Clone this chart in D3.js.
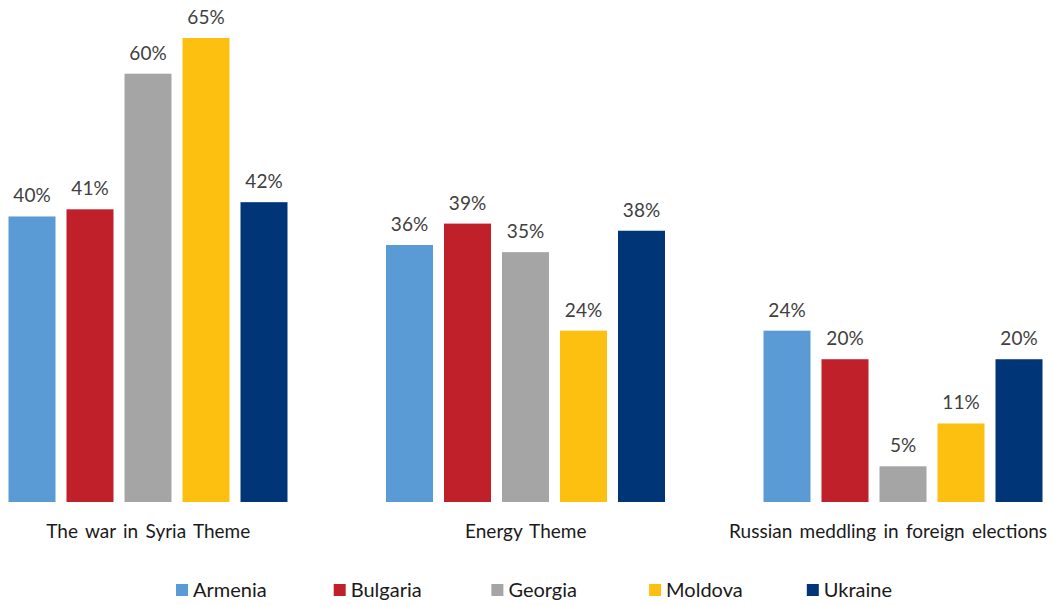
<!DOCTYPE html>
<html>
<head>
<meta charset="utf-8">
<script src="https://cdn.jsdelivr.net/npm/d3@7"></script>
<style>
  html, body { margin: 0; padding: 0; background: #fff; }
  svg { display: block; font-family: Lato, "Open Sans", sans-serif; }
</style>
</head>
<body>
<svg id="chart" width="1053" height="605"></svg>
<script>
// Themes (x-axis groups), countries (series) and their shares in percent
const themes = ["The war in Syria Theme", "Energy Theme", "Russian meddling in foreign elections"];
const countries = ["Armenia", "Bulgaria", "Georgia", "Moldova", "Ukraine"];
const colors = ["#5b9bd5", "#c0202a", "#a5a5a5", "#fdc010", "#003678"];
const armenia  = [40, 36, 24];
const bulgaria = [41, 39, 20];
const georgia  = [60, 35, 5];
const moldova  = [65, 24, 11];
const ukraine  = [42, 38, 20];
const seriesValues = [armenia, bulgaria, georgia, moldova, ukraine];

const W = 1053, H = 605;
const svg = d3.select("#chart");

const x0 = d3.scaleBand().domain(themes).range([-40.5, 1092]).paddingInner(0).paddingOuter(0);
const x1 = d3.scaleBand().domain(countries).range([49, 328]).paddingInner(11 / 58).paddingOuter(0);
const y = d3.scaleLinear().domain([0, 65]).range([502, 38]);
const color = d3.scaleOrdinal().domain(countries).range(colors);

const rows = themes.map((t, i) => ({
  theme: t,
  values: countries.map((c, j) => ({ country: c, value: seriesValues[j][i] }))
}));

const groups = svg.selectAll("g.group").data(rows).join("g")
  .attr("class", "group")
  .attr("transform", d => `translate(${x0(d.theme)},0)`);

groups.selectAll("rect").data(d => d.values).join("rect")
  .attr("x", d => x1(d.country))
  .attr("y", d => y(d.value))
  .attr("width", x1.bandwidth())
  .attr("height", d => y(0) - y(d.value))
  .attr("fill", d => color(d.country));

groups.selectAll("text.val").data(d => d.values).join("text")
  .attr("class", "val")
  .attr("x", d => x1(d.country) + x1.bandwidth() / 2)
  .attr("y", d => y(d.value) - 14)
  .attr("text-anchor", "middle")
  .attr("font-size", 19)
  .attr("fill", "#404040")
  .text(d => d.value + "%");

// Category labels, centred under each group and kept inside the frame
const catLabels = svg.selectAll("text.cat").data(themes).join("text")
  .attr("class", "cat")
  .attr("x", d => x0(d) + x0.bandwidth() / 2)
  .attr("y", 538)
  .attr("text-anchor", "middle")
  .attr("font-size", 19)
  .attr("word-spacing", 2.5)
  .attr("fill", "#1a1a1a")
  .text(d => d);
catLabels.each(function () {
  const bb = this.getBBox();
  const overflow = bb.x + bb.width - (W - 6);
  if (overflow > 0) d3.select(this).attr("x", +d3.select(this).attr("x") - overflow);
});

// Legend
const legend = svg.append("g").attr("transform", "translate(176,584)");
const item = legend.selectAll("g").data(countries).join("g")
  .attr("transform", (d, i) => `translate(${i * 157.7},0)`);
item.append("rect").attr("width", 12).attr("height", 12).attr("fill", d => color(d));
item.append("text")
  .attr("x", 17).attr("y", 13)
  .attr("font-size", 20)
  .attr("fill", "#1a1a1a")
  .text(d => d);
</script>
</body>
</html>
